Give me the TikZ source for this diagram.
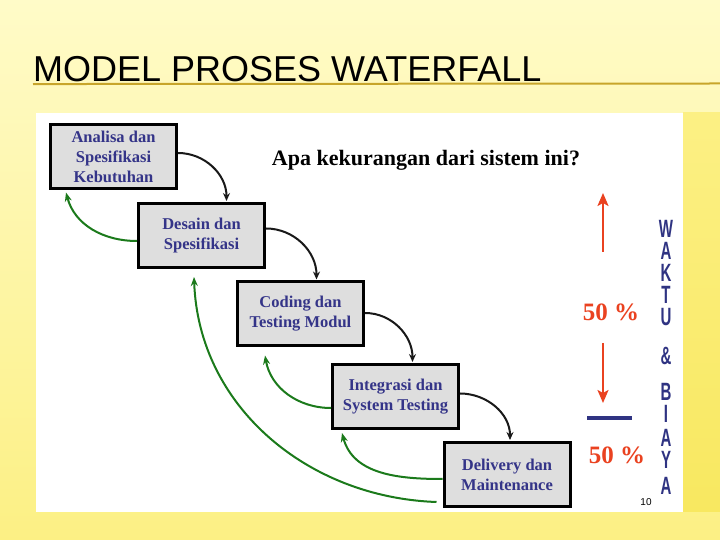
\documentclass[tikz,border=0pt]{standalone}
\usepackage{fontspec}
\setmainfont{Liberation Serif}
\newfontfamily\slidefont{Liberation Sans}
\usetikzlibrary{arrows.meta}
\definecolor{stagetext}{HTML}{343488}
\definecolor{stagefill}{HTML}{DEDEDE}
\definecolor{backgreen}{HTML}{1B7A1B}
\definecolor{costred}{HTML}{EA4220}
\definecolor{costblue}{HTML}{2F3382}
\definecolor{rulegold}{HTML}{C8A52A}
\definecolor{slidetop}{HTML}{FFFBC8}
\definecolor{slidebottom}{HTML}{FCF084}
\definecolor{slideedge}{HTML}{F8E860}
\newcommand\narrowletter[1]{\scalebox{0.75}[1.25]{#1}}

\begin{document}
\begin{tikzpicture}[x=1pt, y=1pt,
  stage/.style={draw=black, line width=3pt, fill=stagefill, minimum width=126pt,
    minimum height=64pt, inner sep=0pt, align=center, text=stagetext,
    font=\fontsize{16.5}{20}\selectfont\bfseries},
  flow/.style={draw=black!90, line width=2pt, -{Stealth[length=8pt,width=7pt]}},
  back/.style={draw=backgreen, line width=2pt, -{Stealth[length=9pt,width=7pt]}},
  cost/.style={draw=costred, line width=2.2pt, -{Stealth[length=13pt,width=11pt,inset=3pt]}},
  pct/.style={text=costred, font=\fontsize{25}{25}\selectfont\bfseries, inner sep=0pt},
  vword/.style={text=costblue, font=\slidefont\fontsize{20}{22}\selectfont\bfseries, inner sep=0pt, align=center}]
  \useasboundingbox (0,0) rectangle (720,540);
  \shade[top color=slidetop, bottom color=slidebottom] (0,0) rectangle (720,540);
  \shade[top color=slidebottom, bottom color=slideedge] (683,28) rectangle (720,427);
  \fill[white] (36,28) rectangle (683,427);

  \node[anchor=base west, inner sep=0pt, font=\slidefont\fontsize{36}{36}\selectfont] (title) at (33,458) {MODEL PROSES WATERFALL};
  \coordinate (ruleend) at (720,456.5);
  \draw[rulegold, line width=2pt] ([yshift=-1.5pt]title.south west) -- (ruleend);

  \node[stage] (analisa) at (113.5,383) {Analisa dan\\Spesifikasi\\Kebutuhan};
  \node[stage] (desain) at (201.5,304.5) {Desain dan\\Spesifikasi};
  \node[stage] (coding) at (300.5,226) {Coding dan\\Testing Modul};
  \node[stage] (integrasi) at (395.5,143.5) {Integrasi dan\\System Testing};
  \node[stage] (delivery) at (507,65.5) {Delivery dan\\Maintenance};

  \draw[flow] ([yshift=4pt]analisa.east) to[out=0, in=90] ([xshift=25pt, yshift=1pt]desain.north);
  \draw[flow] ([yshift=7pt]desain.east) to[out=0, in=90] ([xshift=16pt, yshift=1pt]coding.north);
  \draw[flow] ([yshift=1pt]coding.east) to[out=0, in=90] ([xshift=17pt, yshift=1pt]integrasi.north);
  \draw[flow] ([yshift=3pt]integrasi.east) to[out=0, in=90] ([xshift=3pt, yshift=1pt]delivery.north);

  \draw[back] ([yshift=-5.5pt]desain.west) to[out=180, in=-75] ([xshift=-47.5pt, yshift=-2pt]analisa.south);
  \draw[back] ([yshift=-11.5pt]integrasi.west) to[out=180, in=-80] ([xshift=-35.5pt, yshift=-8pt]coding.south);
  \draw[back] ([yshift=-4.5pt]delivery.west) to[out=180, in=-75] ([xshift=-53.5pt, yshift=-3pt]integrasi.south);
  \draw[back] ([xshift=-6pt, yshift=-27.5pt]delivery.west) to[out=178, in=-88] ([xshift=-7.5pt, yshift=-8pt]desain.south);

  \node[font=\fontsize{22}{22}\selectfont\bfseries] (question) at (426,380) {Apa kekurangan dari sistem ini?};

  \node[pct] (upper) at (611,228) {50 \%};
  \node[pct] (lower) at (617,85) {50 \%};
  \coordinate (uptail) at (603,288);
  \coordinate (uphead) at (603,347);
  \coordinate (downtail) at (603,197);
  \coordinate (downhead) at (603,137);
  \draw[cost] (uptail) -- (uphead);
  \draw[cost] (downtail) -- (downhead);
  \coordinate (barleft) at (587,122);
  \coordinate (barright) at (632,122);
  \draw[costblue, line width=4pt] (barleft) -- (barright);

  \node[vword, anchor=north] (cost) at (666,320)
    {\narrowletter{W}\\\narrowletter{A}\\\narrowletter{K}\\\narrowletter{T}\\\narrowletter{U}\\[17pt]
     \narrowletter{\&}\\[14pt]\narrowletter{B}\\\narrowletter{I}\\[2pt]\narrowletter{A}\\\narrowletter{Y}\\[4pt]\narrowletter{A}};

  \node[font=\slidefont\fontsize{10}{10}\selectfont] (pagenum) at (646,38) {10};
\end{tikzpicture}
\end{document}
